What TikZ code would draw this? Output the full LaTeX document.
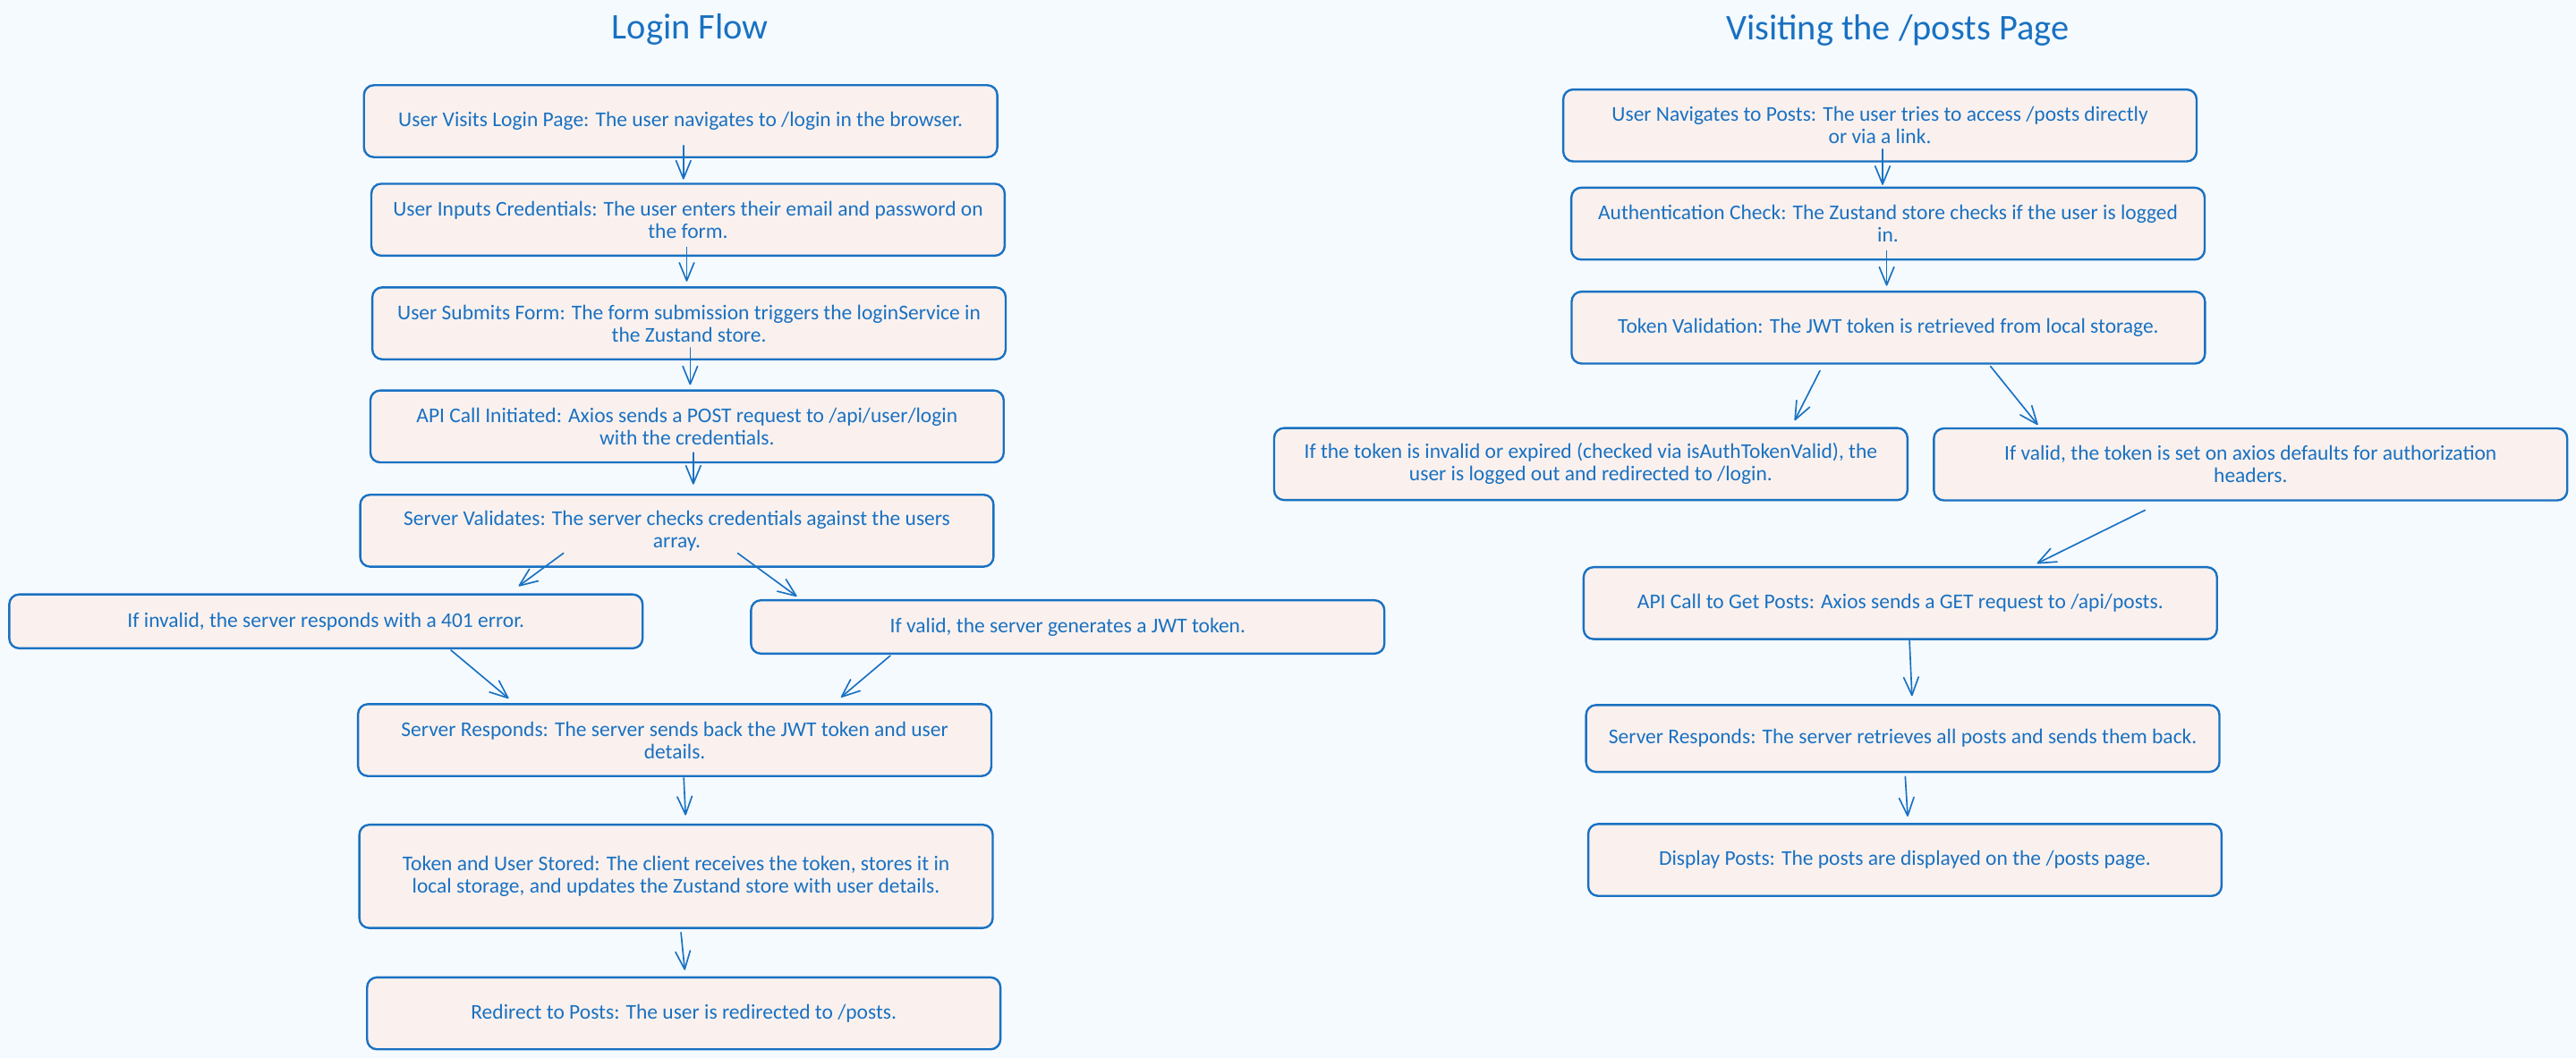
\documentclass[tikz,border=0pt]{standalone}
\usepackage{fontspec}
\setmainfont{Carlito}
\usetikzlibrary{arrows.meta}
\definecolor{flowblue}{HTML}{1971C2}
\definecolor{stepfill}{HTML}{FAF1EE}
\definecolor{paper}{HTML}{F5FAFE}
\begin{document}
\begin{tikzpicture}[x=1pt,y=-1pt,
	stepbox/.style={draw=flowblue,fill=stepfill,line width=1.3pt,rounded corners=6pt,minimum width=385.5pt,minimum height=43.8pt,inner sep=0pt,align=center,text=flowblue,font=\fontsize{12.8}{13.6}\selectfont},
	heading/.style={text=flowblue,font=\fontsize{22}{24}\selectfont,anchor=base,inner sep=0pt},
	flow/.style={draw=flowblue,line width=0.9pt,line cap=round,-{Straight Barb[length=11pt,width=9pt,round]}}]
	\fill[paper] (0,0) rectangle (1568,644.3);
	\useasboundingbox (0,0) rectangle (1568,644.3);
	\node[heading] (loginTitle) at (420,23.6) {Login Flow};
	\node[heading] (postsTitle) at (1155,24.4) {Visiting the /posts Page};
	\node[stepbox] (login1) at (414.3,73.8) {User Visits Login Page: The user navigates to /login in the browser.};
	\node[stepbox] (login2) at (418.8,133.8) {User Inputs Credentials: The user enters their email and password on\\the form.};
	\node[stepbox] (login3) at (419.4,196.9) {User Submits Form: The form submission triggers the loginService in\\the Zustand store.};
	\node[stepbox] (login4) at (418.2,259.7) {API Call Initiated: Axios sends a POST request to /api/user/login\\with the credentials.};
	\node[stepbox] (login5) at (412,323.2) {Server Validates: The server checks credentials against the users\\array.};
	\node[stepbox,minimum height=32.8pt] (login6) at (198.4,378.4) {If invalid, the server responds with a 401 error.};
	\node[stepbox,minimum height=32.5pt] (login7) at (649.9,381.8) {If valid, the server generates a JWT token.};
	\node[stepbox] (login8) at (410.7,450.7) {Server Responds: The server sends back the JWT token and user\\details.};
	\node[stepbox,minimum height=62.9pt] (login9) at (411.5,533.7) {Token and User Stored: The client receives the token, stores it in\\local storage, and updates the Zustand store with user details.};
	\node[stepbox] (login10) at (416.2,617.1) {Redirect to Posts: The user is redirected to /posts.};
	\node[stepbox] (posts1) at (1144.3,76.4) {User Navigates to Posts: The user tries to access /posts directly\\or via a link.};
	\node[stepbox] (posts2) at (1149.2,136.2) {Authentication Check: The Zustand store checks if the user is logged\\in.};
	\node[stepbox] (posts3) at (1149.4,199.5) {Token Validation: The JWT token is retrieved from local storage.};
	\node[stepbox] (posts4) at (968.3,282.6) {If the token is invalid or expired (checked via isAuthTokenValid), the\\user is logged out and redirected to /login.};
	\node[stepbox] (posts5) at (1369.9,282.8) {If valid, the token is set on axios defaults for authorization\\headers.};
	\node[stepbox] (posts6) at (1156.7,367.3) {API Call to Get Posts: Axios sends a GET request to /api/posts.};
	\node[stepbox,minimum height=40.7pt] (posts7) at (1158.2,449.7) {Server Responds: The server retrieves all posts and sends them back.};
	\node[stepbox] (posts8) at (1159.5,523.7) {Display Posts: The posts are displayed on the /posts page.};
	 \draw[flow] ([xshift=1.7pt,yshift=7.7pt]login1.south) -- ([xshift=-2.8pt,yshift=2pt]login2.north);
	 \draw[flow] ([xshift=-0.8pt,yshift=5.8pt]login2.south) -- ([xshift=-1.4pt,yshift=2.9pt]login3.north);
	 \draw[flow] ([xshift=0.7pt,yshift=7.6pt]login3.south) -- ([xshift=1.9pt,yshift=2.7pt]login4.north);
	 \draw[flow] ([xshift=3.8pt,yshift=6.6pt]login4.south) -- ([xshift=10pt,yshift=5.6pt]login5.north);
	 \draw[flow] ([xshift=-69pt,yshift=8.9pt]login5.south) -- ([xshift=117.3pt,yshift=4.4pt]login6.north);
	 \draw[flow] ([xshift=37pt,yshift=8.9pt]login5.south) -- ([xshift=-164.9pt,yshift=1.7pt]login7.north);
	 \draw[flow] ([xshift=76.1pt,yshift=-0.5pt]login6.south) -- ([xshift=-101.1pt,yshift=2.8pt]login8.north);
	 \draw[flow] ([xshift=-108pt,yshift=-0.6pt]login7.south) -- ([xshift=101.2pt,yshift=3.5pt]login8.north);
	 \draw[flow] ([xshift=5.5pt,yshift=-0.5pt]login8.south) -- ([xshift=5.8pt,yshift=5.1pt]login9.north);
	 \draw[flow] ([xshift=3pt,yshift=-2pt]login9.south) -- ([xshift=0.6pt,yshift=3.8pt]login10.north);
	 \draw[flow] ([xshift=1.6pt,yshift=8.2pt]posts1.south) -- ([xshift=-3.3pt,yshift=1pt]posts2.north);
	 \draw[flow] ([xshift=-0.8pt,yshift=6pt]posts2.south) -- ([xshift=-1pt,yshift=2.9pt]posts3.north);
	 \draw[flow] ([xshift=-41.6pt,yshift=-3.7pt]posts3.south) -- ([xshift=124.1pt,yshift=4pt]posts4.north);
	 \draw[flow] ([xshift=62.2pt,yshift=-1pt]posts3.south) -- ([xshift=-129.5pt,yshift=1.5pt]posts5.north);
	 \draw[flow] ([xshift=-64.2pt,yshift=-5.3pt]posts5.south) -- ([xshift=83.2pt,yshift=1.6pt]posts6.north);
	 \draw[flow] ([xshift=5.6pt,yshift=-0.4pt]posts6.south) -- ([xshift=5.6pt,yshift=4.8pt]posts7.north);
	 \draw[flow] ([xshift=1.5pt,yshift=-2.2pt]posts7.south) -- ([xshift=1.7pt,yshift=3.9pt]posts8.north);
\end{tikzpicture}
\end{document}
